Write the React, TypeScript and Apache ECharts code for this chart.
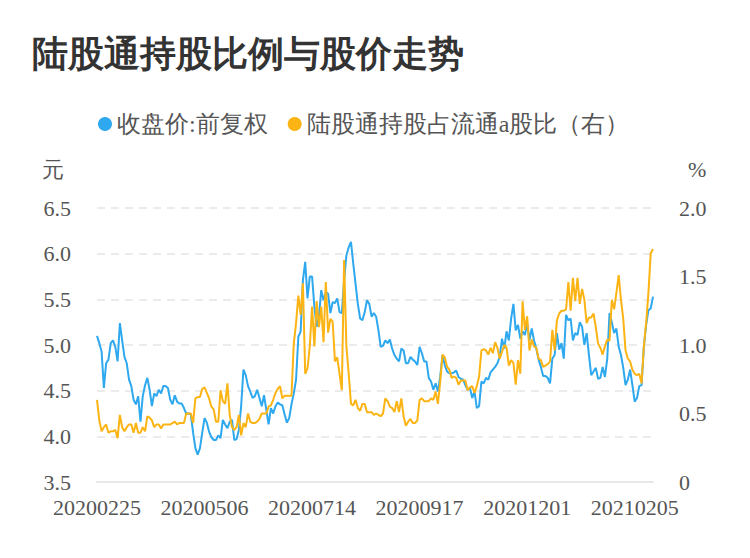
import React, { useEffect, useRef } from "react";
import * as echarts from "echarts";

const START_DATE = "20200225";
const POINT_COUNT = 244;
const HOLIDAYS = [
  "20200406", "20200501", "20200504", "20200505", "20200625", "20200626",
  "20201001", "20201002", "20201005", "20201006", "20201007", "20201008",
  "20210101", "20210211", "20210212", "20210215", "20210216", "20210217",
];

function tradingDays(start: string, count: number): string[] {
  const out: string[] = [];
  let d = new Date(Date.UTC(+start.slice(0, 4), +start.slice(4, 6) - 1, +start.slice(6, 8)));
  while (out.length < count) {
    const s =
      d.getUTCFullYear().toString() +
      String(d.getUTCMonth() + 1).padStart(2, "0") +
      String(d.getUTCDate()).padStart(2, "0");
    const wd = d.getUTCDay();
    if (wd !== 0 && wd !== 6 && HOLIDAYS.indexOf(s) < 0) out.push(s);
    d = new Date(d.getTime() + 86400000);
  }
  return out;
}

const categories = tradingDays(START_DATE, POINT_COUNT);

const priceSeg1 = [5.10, 5.02, 4.93, 4.53, 4.80, 4.84, 5.02, 5.05, 4.98, 4.82, 5.24, 5.05, 4.87, 4.80, 4.62, 4.55, 4.40, 4.35, 4.44, 4.16, 4.44, 4.56, 4.64, 4.51, 4.33, 4.47, 4.44, 4.51, 4.47, 4.55, 4.55, 4.53, 4.40, 4.35, 4.45, 4.38, 4.36, 4.36, 4.31, 4.25, 4.25];
const priceSeg2 = [4.24, 4.04, 3.87, 3.80, 3.87, 4.04, 4.20, 4.15, 4.05, 3.99, 3.96, 3.96, 4.01, 3.98, 4.18, 4.13, 4.09, 4.16, 4.18, 3.96, 3.97, 4.07, 4.33, 4.73, 4.67, 4.55, 4.49, 4.42, 4.44, 4.51, 4.42, 4.33, 4.45, 4.29, 4.13, 4.31, 4.25, 4.33, 4.37];
const priceSeg3 = [4.35, 4.34, 4.24, 4.15, 4.20, 4.35, 4.47, 4.62, 5.09, 5.15, 5.71, 5.91, 5.51, 5.75, 5.75, 5.42, 5.20, 5.31, 5.60, 5.49, 5.58, 5.56, 5.35, 5.47, 5.46, 5.51, 5.36, 5.35, 5.71, 5.98, 6.07, 6.13, 5.89, 5.67, 5.45, 5.29, 5.27, 5.36, 5.49, 5.45, 5.31, 5.35, 5.31, 5.16];
const priceSeg4 = [4.98, 4.99, 5.05, 5.02, 5.06, 4.96, 4.89, 4.85, 4.82, 4.96, 4.94, 4.80, 4.80, 4.87, 4.84, 4.82, 4.78, 4.98, 4.91, 4.82, 4.82, 4.64, 4.60, 4.51, 4.58, 4.49, 4.65, 4.89, 4.78, 4.71, 4.69, 4.69, 4.70, 4.72, 4.65, 4.63, 4.62, 4.56, 4.51, 4.53, 4.42, 4.49];
const priceSeg5 = [4.31, 4.33, 4.60, 4.58, 4.64, 4.62, 4.70, 4.73, 4.76, 4.80, 4.87, 5.07, 4.96, 5.15, 5.05, 5.29, 5.45, 5.16, 5.22, 5.07, 5.15, 5.11, 5.24, 5.05, 5.18, 5.05, 4.96, 4.84, 4.76, 4.66, 4.66, 4.64, 4.58, 4.85, 4.89, 5.13, 4.95, 5.02, 4.85, 5.33, 5.27];
const priceSeg6 = [5.29, 5.05, 5.13, 5.11, 5.25, 5.20, 5.00, 5.13, 4.89, 4.67, 4.71, 4.75, 4.63, 4.64, 4.76, 4.65, 4.85, 5.35, 5.25, 5.13, 5.18, 4.98, 4.89, 4.75, 4.56, 4.62, 4.73, 4.56, 4.38, 4.42, 4.55, 4.56, 4.98, 5.22, 5.38, 5.40, 5.53];

const ratioSeg1 = [0.60, 0.45, 0.37, 0.40, 0.42, 0.36, 0.37, 0.37, 0.38, 0.32, 0.49, 0.40, 0.37, 0.40, 0.42, 0.42, 0.36, 0.43, 0.36, 0.36, 0.40, 0.37, 0.48, 0.47, 0.45, 0.40, 0.42, 0.42, 0.39, 0.42, 0.42, 0.42, 0.42, 0.43, 0.44, 0.42, 0.43, 0.43, 0.43, 0.50, 0.50];
const ratioSeg2 = [0.50, 0.43, 0.61, 0.62, 0.62, 0.68, 0.69, 0.65, 0.61, 0.55, 0.53, 0.44, 0.44, 0.67, 0.59, 0.57, 0.72, 0.49, 0.40, 0.38, 0.40, 0.49, 0.34, 0.43, 0.40, 0.50, 0.44, 0.43, 0.43, 0.44, 0.46, 0.50, 0.50, 0.50, 0.55, 0.56, 0.60, 0.65, 0.68];
const ratioSeg3 = [0.70, 0.61, 0.63, 0.63, 0.63, 0.63, 1.01, 1.16, 1.36, 1.22, 1.45, 0.79, 0.83, 0.99, 1.28, 0.99, 1.32, 1.13, 1.28, 1.02, 1.46, 1.09, 1.19, 1.17, 0.88, 0.91, 0.79, 0.67, 1.62, 0.99, 0.79, 0.57, 0.56, 0.60, 0.54, 0.52, 0.57, 0.57, 0.51, 0.51, 0.51, 0.49, 0.50, 0.49];
const ratioSeg4 = [0.48, 0.50, 0.61, 0.59, 0.55, 0.54, 0.51, 0.59, 0.51, 0.61, 0.48, 0.41, 0.44, 0.46, 0.43, 0.43, 0.45, 0.60, 0.61, 0.59, 0.59, 0.59, 0.61, 0.60, 0.66, 0.57, 0.73, 0.93, 0.91, 0.84, 0.82, 0.76, 0.77, 0.76, 0.71, 0.74, 0.74, 0.74, 0.67, 0.69, 0.70, 0.65];
const ratioSeg5 = [0.70, 0.77, 0.96, 0.97, 0.96, 0.93, 0.98, 0.94, 1.02, 0.98, 0.90, 0.95, 1.00, 0.98, 0.85, 0.89, 0.87, 0.71, 0.89, 0.79, 1.32, 1.11, 1.21, 0.96, 1.04, 0.99, 0.98, 0.90, 0.89, 0.84, 0.85, 0.86, 0.88, 1.11, 0.96, 1.18, 1.23, 1.25, 1.25, 1.26, 1.46];
const ratioSeg6 = [1.25, 1.49, 1.32, 1.49, 1.30, 1.41, 1.33, 1.16, 1.20, 1.20, 1.23, 1.13, 1.01, 0.98, 0.93, 0.99, 1.04, 1.03, 1.33, 1.26, 1.38, 1.51, 1.33, 1.19, 0.96, 0.90, 0.88, 0.82, 0.79, 0.78, 0.79, 0.72, 0.99, 1.16, 1.38, 1.67, 1.70];

const priceValues = [...priceSeg1, ...priceSeg2, ...priceSeg3, ...priceSeg4, ...priceSeg5, ...priceSeg6];
const ratioValues = [...ratioSeg1, ...ratioSeg2, ...ratioSeg3, ...ratioSeg4, ...ratioSeg5, ...ratioSeg6];

const TITLE = "陆股通持股比例与股价走势";
const PRICE_NAME = "收盘价:前复权";
const RATIO_NAME = "陆股通持股占流通a股比（右）";
const BLUE = "#2EA8EE";
const ORANGE = "#FBB414";
const FONT = "serif";

export default function App() {
  const ref = useRef<HTMLDivElement>(null);
  useEffect(() => {
    if (!ref.current) return;
    document.body.style.margin = "0";
    const chart = echarts.init(ref.current, undefined, { renderer: "svg" });
    const labelStyle = { color: "#555", fontSize: 22, fontFamily: FONT };
    chart.setOption({
      animation: false,
      textStyle: { fontFamily: FONT },
      title: {
        text: TITLE,
        left: 27,
        top: 30,
        textStyle: { fontSize: 36, fontWeight: "bold", color: "#333", fontFamily: "sans-serif" },
      },
      legend: {
        left: 93,
        top: 107,
        icon: "circle",
        itemWidth: 14,
        itemHeight: 14,
        itemGap: 20,
        textStyle: { color: "#555", fontSize: 24, fontFamily: FONT },
        data: [PRICE_NAME, RATIO_NAME],
      },
      grid: { left: 97, right: 97, top: 208, bottom: 76 },
      xAxis: {
        type: "category",
        boundaryGap: false,
        data: categories,
        axisTick: { show: false },
        axisLine: { lineStyle: { color: "#E8E8E8", width: 2 } },
        axisLabel: { ...labelStyle, interval: 46, margin: 14 },
      },
      yAxis: [
        {
          type: "value",
          name: "元",
          min: 3.5,
          max: 6.5,
          interval: 0.5,
          nameGap: 28,
          nameTextStyle: { ...labelStyle, align: "right", padding: [0, 33, 0, 0] },
          axisLine: { show: false },
          axisTick: { show: false },
          axisLabel: { ...labelStyle, margin: 26, formatter: (v: number) => v.toFixed(1) },
          splitLine: { lineStyle: { color: "#EBEBEB", width: 2, type: [8, 6] } },
        },
        {
          type: "value",
          name: "%",
          min: 0,
          max: 2,
          interval: 0.5,
          nameGap: 28,
          nameTextStyle: { ...labelStyle, align: "left", padding: [0, 0, 0, 35] },
          axisLine: { show: false },
          axisTick: { show: false },
          axisLabel: { ...labelStyle, margin: 26, formatter: (v: number) => (v === 0 ? "0" : v.toFixed(1)) },
          splitLine: { show: false },
        },
      ],
      series: [
        {
          name: PRICE_NAME,
          type: "line",
          yAxisIndex: 0,
          data: priceValues,
          symbol: "none",
          itemStyle: { color: BLUE },
          lineStyle: { color: BLUE, width: 2 },
        },
        {
          name: RATIO_NAME,
          type: "line",
          yAxisIndex: 1,
          data: ratioValues,
          symbol: "none",
          itemStyle: { color: ORANGE },
          lineStyle: { color: ORANGE, width: 2 },
        },
      ],
    });
    return () => chart.dispose();
  }, []);
  return <div ref={ref} style={{ width: 750, height: 558 }} />;
}
